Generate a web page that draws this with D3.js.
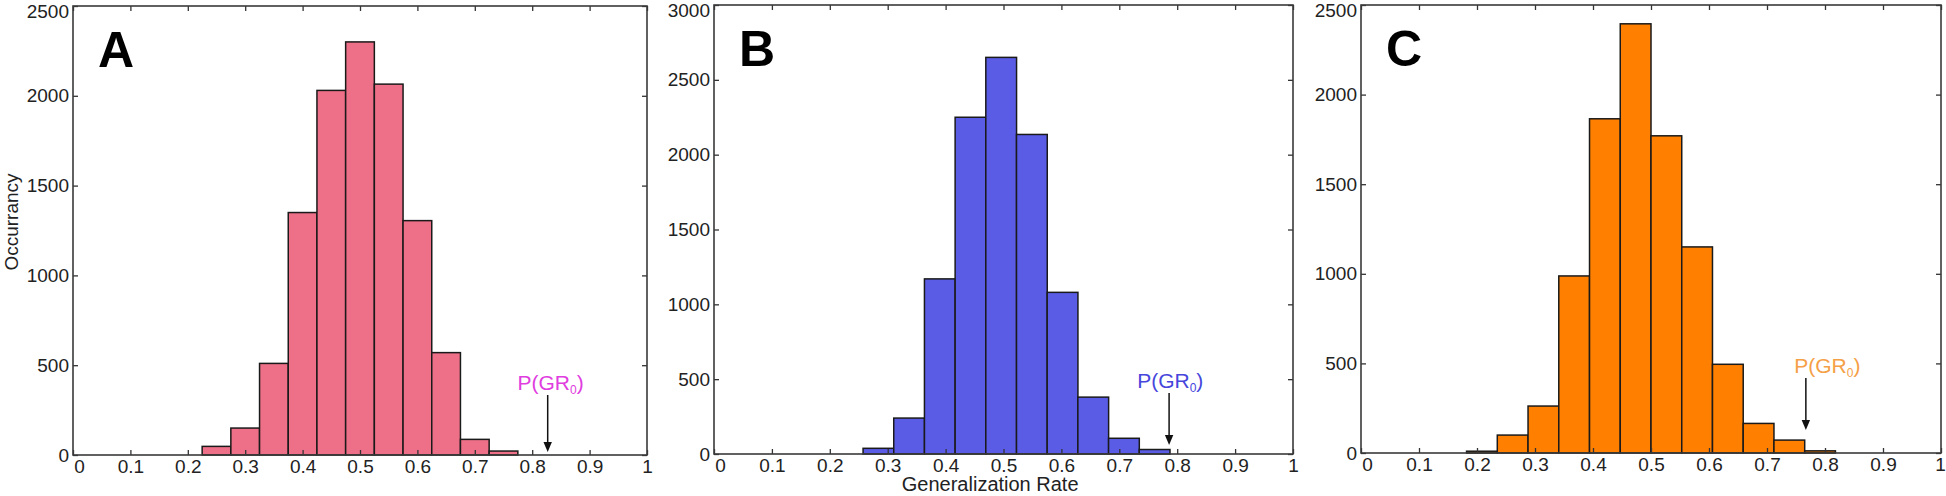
<!DOCTYPE html>
<html>
<head>
<meta charset="utf-8">
<script src="https://cdn.jsdelivr.net/npm/d3@7"></script>
<style>
  body { margin: 0; background: #fff; }
  svg { display: block; font-family: "Liberation Sans", Arial, sans-serif; }
</style>
</head>
<body>
<div id="chart"></div>
<script>
// histogram bins (bin centres on the x axis, counts on y)
const centersA = [0.25, 0.30, 0.35, 0.40, 0.45, 0.50, 0.55, 0.60, 0.65, 0.70, 0.75]
const countsA = [48, 150, 510, 1350, 2030, 2300, 2065, 1305, 570, 87, 22]

const centersB = [0.284, 0.337, 0.390, 0.443, 0.496, 0.549, 0.602, 0.655, 0.708, 0.761]
const countsB = [38, 240, 1170, 2250, 2650, 2135, 1080, 380, 105, 30]

const centersC = [0.2085, 0.2615, 0.3145, 0.3675, 0.4205, 0.4735, 0.5265, 0.5795, 0.6325, 0.6855, 0.7385, 0.7915]
const countsC = [10, 100, 262, 988, 1865, 2395, 1770, 1150, 495, 165, 72, 12]

const binWidths = [0.05, 0.0531, 0.053]
const yMaxes = [2500, 3000, 2500]

// P(GR0) marker: x value, arrow top and tip (in counts), label x
const gr0X = [0.827, 0.786, 0.767]
const arrowTop = [334, 407, 419]
const arrowTip = [17, 60, 128]
const labelX = [0.832, 0.788, 0.804]

const xTicks = [0, 0.1, 0.2, 0.3, 0.4, 0.5, 0.6, 0.7, 0.8, 0.9, 1]
const xTickLabels = ['0', '0.1', '0.2', '0.3', '0.4', '0.5', '0.6', '0.7', '0.8', '0.9', '1']

const letters = ['A', 'B', 'C']
const fills = ['#ee6f88', '#5a5ce6', '#ff7f00']
const labelColors = ['#e03de0', '#4646dc', '#f5a046']

// frame of each panel in pixels
const frames = [
  { left: 73, right: 647, top: 6, bottom: 455 },
  { left: 714, right: 1293, top: 5, bottom: 454 },
  { left: 1361, right: 1941, top: 5, bottom: 453 }
]

const centers = [centersA, centersB, centersC]
const counts = [countsA, countsB, countsC]

const svg = d3
  .select('#chart')
  .append('svg')
  .attr('width', 1946)
  .attr('height', 496)

frames.forEach((f, k) => {
  const x = d3.scaleLinear().domain([0, 1]).range([f.left, f.right])
  const y = d3.scaleLinear().domain([0, yMaxes[k]]).range([f.bottom, f.top])
  const yTicks = d3.range(0, yMaxes[k] + 1, 500)
  const g = svg.append('g')
  const bw = binWidths[k]

  g.selectAll('rect.bar')
    .data(counts[k])
    .enter()
    .append('rect')
    .attr('class', 'bar')
    .attr('x', (d, i) => x(centers[k][i] - bw / 2))
    .attr('width', (d, i) => x(centers[k][i] + bw / 2) - x(centers[k][i] - bw / 2))
    .attr('y', d => y(d))
    .attr('height', d => y(0) - y(d))
    .attr('fill', fills[k])
    .attr('stroke', '#1a1a1a')
    .attr('stroke-width', 1.5)

  const styleAxis = sel => {
    sel.select('.domain').remove()
    sel.selectAll('line').attr('stroke', '#333').attr('stroke-width', 1.3)
    sel.selectAll('text').attr('font-size', 19).attr('fill', '#222')
  }

  const bottomAxis = g.append('g')
    .attr('transform', `translate(0,${f.bottom})`)
    .call(d3.axisBottom(x).tickValues(xTicks).tickFormat((d, i) => xTickLabels[i])
      .tickSizeInner(-5).tickSizeOuter(0).tickPadding(4.5))
    .call(styleAxis)
  // matlab puts the "0" a little to the right, and the "1" must stay on the page
  bottomAxis.selectAll('.tick text').filter(d => d === 0).attr('dx', 6)
  if (k === 2) bottomAxis.selectAll('.tick text').filter(d => d === 1).attr('dx', -1)

  g.append('g')
    .attr('transform', `translate(0,${f.top})`)
    .call(d3.axisTop(x).tickValues(xTicks).tickFormat('').tickSizeInner(-5).tickSizeOuter(0))
    .call(styleAxis)

  const leftAxis = g.append('g')
    .attr('transform', `translate(${f.left},0)`)
    .call(d3.axisLeft(y).tickValues(yTicks).tickFormat(d3.format('d'))
      .tickSizeInner(-5).tickSizeOuter(0).tickPadding(4))
    .call(styleAxis)
  // keep the top label on the page
  leftAxis.selectAll('.tick text').filter(d => d === yMaxes[k]).attr('y', 5)

  g.append('g')
    .attr('transform', `translate(${f.right},0)`)
    .call(d3.axisRight(y).tickValues(yTicks).tickFormat('').tickSizeInner(-5).tickSizeOuter(0))
    .call(styleAxis)

  // box round the axes
  g.append('rect')
    .attr('x', f.left)
    .attr('y', f.top)
    .attr('width', f.right - f.left)
    .attr('height', f.bottom - f.top)
    .attr('fill', 'none')
    .attr('stroke', '#3a3a3a')
    .attr('stroke-width', 1.6)

  // panel letter
  g.append('text')
    .text(letters[k])
    .attr('x', f.left + 25)
    .attr('y', f.top + 61)
    .attr('font-size', 50)
    .attr('font-weight', 'bold')
    .attr('fill', '#000')

  // arrow to P(GR0)
  const ax = x(gr0X[k])
  const yTop = y(arrowTop[k])
  const yTip = y(arrowTip[k])
  g.append('line')
    .attr('x1', ax).attr('x2', ax)
    .attr('y1', yTop).attr('y2', yTip - 8)
    .attr('stroke', '#111')
    .attr('stroke-width', 1.5)
  g.append('path')
    .attr('d', `M${ax - 4.2},${yTip - 10} L${ax + 4.2},${yTip - 10} L${ax},${yTip} Z`)
    .attr('fill', '#111')

  const label = g.append('text')
    .attr('x', x(labelX[k]))
    .attr('y', yTop - 5)
    .attr('text-anchor', 'middle')
    .attr('font-size', 21)
    .attr('fill', labelColors[k])
  label.append('tspan').text('P(GR')
  label.append('tspan').text('0').attr('font-size', 12).attr('dy', 4)
  label.append('tspan').text(')').attr('dy', -4)

  if (k === 0) {
    svg.append('text')
      .text('Occurrancy')
      .attr('transform', `translate(18,222) rotate(-90)`)
      .attr('text-anchor', 'middle')
      .attr('font-size', 19)
      .attr('fill', '#222')
  }
  if (k === 1) {
    svg.append('text')
      .text('Generalization Rate')
      .attr('x', x(0.477))
      .attr('y', 491)
      .attr('text-anchor', 'middle')
      .attr('font-size', 20)
      .attr('fill', '#222')
  }
})
</script>
</body>
</html>
